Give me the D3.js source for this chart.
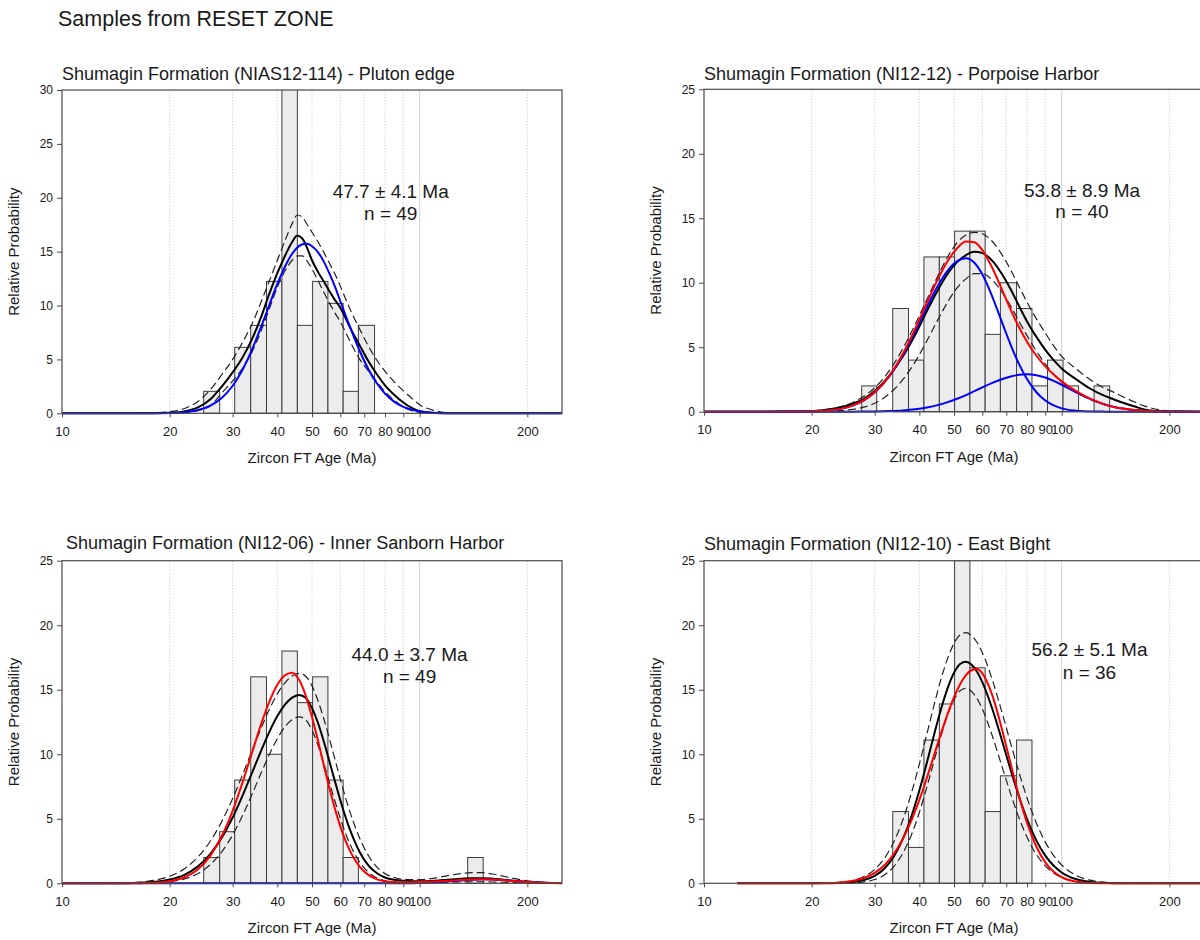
<!DOCTYPE html>
<html>
<head>
<meta charset="utf-8">
<script src="https://cdn.jsdelivr.net/npm/d3@7"></script>
<style>
  body { margin: 0; background: #fff; }
  text { font-family: "Liberation Sans", Arial, sans-serif; fill: #1a1a1a; }
</style>
</head>
<body>
<script>
// histogram bins (Ma), shared by all four samples
const binEdges = [24.9, 27.6, 30.4, 33.7, 37.3, 41.2, 45.5, 50.2, 55.4, 61.1, 67.4, 74.8, 82.6, 91.3, 100.9, 111.5, 123.2, 136.2, 150.5];

const p1Bars = [2.04, 0, 6.12, 8.16, 12.24, 30.6, 8.16, 12.24, 10.2, 2.04, 8.16, 0, 0, 0, 0, 0, 0, 0];
const p2Bars = [0, 2, 0, 8, 4, 12, 12, 14, 14, 6, 10, 8, 2, 4, 2, 0, 2, 0];
const p3Bars = [2, 4, 8, 16, 10, 18, 14, 16, 8, 2, 0, 0, 0, 0, 0, 0, 0, 2];
const p4Bars = [0, 0, 0, 5.56, 2.78, 11.1, 13.9, 25, 16.7, 5.56, 8.33, 11.1, 0, 0, 0, 0, 0, 0];

// curves, sampled at the ages of each panel
const p1Ages  = [10, 18, 20, 22, 24, 26, 28, 30, 32, 34, 36, 38, 40, 42, 44, 45.5, 47, 48.5, 50, 52, 54, 56, 58, 60, 64, 68, 72, 76, 80, 85, 90, 95, 100, 110, 120, 130, 250];
const p1Black = [0, 0.01, 0.04, 0.18, 0.55, 1.3, 2.5, 3.8, 5.2, 6.9, 8.9, 11.1, 13.0, 14.6, 15.9, 16.5, 16.2, 15.3, 14.2, 13.1, 12.2, 11.3, 10.5, 9.8, 7.9, 6.3, 4.8, 3.6, 2.6, 1.7, 1.0, 0.5, 0.2, 0.03, 0, 0, 0];
const p1Upper = [0, 0.05, 0.15, 0.45, 1.1, 2.2, 3.6, 5.0, 6.6, 8.3, 10.3, 12.3, 14.2, 16.0, 17.6, 18.4, 18.2, 17.5, 16.8, 15.9, 14.9, 13.9, 12.9, 11.8, 9.6, 7.8, 6.2, 4.9, 3.9, 2.9, 2.1, 1.4, 0.8, 0.25, 0.05, 0, 0];
const p1Lower = [0, 0, 0, 0.05, 0.25, 0.7, 1.9, 3.0, 4.2, 5.7, 7.6, 9.7, 11.7, 13.2, 14.2, 14.6, 14.6, 14.1, 13.4, 12.3, 11.2, 10.2, 9.3, 8.5, 6.6, 5.0, 3.9, 2.9, 2.0, 1.2, 0.6, 0.25, 0.08, 0, 0, 0, 0];
const p1Blue  = [0, 0.01, 0.03, 0.10, 0.30, 0.72, 1.44, 2.56, 4.07, 5.93, 7.99, 10.07, 12.0, 13.6, 14.8, 15.39, 15.69, 15.74, 15.5, 14.94, 14.05, 12.93, 11.73, 10.4, 7.94, 5.78, 4.05, 2.76, 1.82, 1.06, 0.60, 0.34, 0.18, 0.05, 0.01, 0, 0];

const p2Ages  = [10, 18, 20, 22, 24, 26, 28, 30, 33, 36, 39, 42, 45, 48, 51, 54, 57, 60, 64, 68, 72, 76, 80, 85, 90, 95, 100, 110, 120, 130, 140, 150, 160, 170, 180, 200, 250];
const p2Black = [0, 0.01, 0.04, 0.15, 0.32, 0.6, 1.0, 1.6, 2.8, 4.3, 6.0, 7.8, 9.4, 10.7, 11.6, 12.15, 12.4, 12.3, 11.7, 10.7, 9.5, 8.2, 7.0, 5.8, 4.8, 4.0, 3.35, 2.5, 1.8, 1.3, 0.95, 0.65, 0.4, 0.18, 0.08, 0.02, 0];
const p2Upper = [0, 0.03, 0.08, 0.18, 0.38, 0.7, 1.2, 1.85, 3.2, 4.9, 6.8, 8.7, 10.5, 12.0, 13.1, 13.7, 13.9, 13.8, 13.2, 12.2, 11.0, 9.7, 8.5, 7.2, 6.1, 5.1, 4.3, 3.3, 2.5, 1.9, 1.5, 1.1, 0.75, 0.45, 0.25, 0.07, 0];
const p2Lower = [0, 0, 0, 0.03, 0.08, 0.18, 0.35, 0.65, 1.4, 2.5, 3.9, 5.5, 7.1, 8.5, 9.6, 10.3, 10.7, 10.7, 10.2, 9.3, 8.2, 7.0, 5.9, 4.7, 3.7, 2.9, 2.3, 1.5, 0.95, 0.6, 0.35, 0.2, 0.1, 0.05, 0.03, 0.01, 0];
const p2Blue1 = [0, 0.01, 0.03, 0.09, 0.22, 0.47, 0.88, 1.48, 2.75, 4.41, 6.28, 8.12, 9.73, 10.94, 11.67, 11.9, 11.55, 10.65, 8.91, 6.98, 5.19, 3.69, 2.53, 1.51, 0.87, 0.49, 0.26, 0.08, 0.02, 0.01, 0, 0, 0, 0, 0, 0, 0];
const p2Blue2 = [0, 0, 0, 0, 0, 0, 0.01, 0.02, 0.05, 0.10, 0.19, 0.33, 0.51, 0.74, 1.0, 1.29, 1.59, 1.88, 2.23, 2.52, 2.73, 2.86, 2.9, 2.83, 2.65, 2.39, 2.09, 1.49, 0.99, 0.62, 0.37, 0.22, 0.125, 0.07, 0.04, 0.01, 0];
const p2Red   = [0, 0.01, 0.03, 0.09, 0.22, 0.47, 0.89, 1.50, 2.80, 4.51, 6.47, 8.45, 10.24, 11.68, 12.67, 13.19, 13.14, 12.53, 11.14, 9.50, 7.92, 6.55, 5.43, 4.34, 3.52, 2.88, 2.35, 1.57, 1.01, 0.63, 0.37, 0.22, 0.125, 0.07, 0.04, 0.01, 0];

const p3Ages  = [10, 15, 18, 20, 22, 24, 26, 28, 30, 32, 34, 36, 38, 40, 42, 44, 46, 48, 50, 52, 54, 56, 58, 60, 64, 68, 72, 76, 80, 85, 90, 100, 110, 120, 130, 140, 150, 160, 170, 180, 200, 220, 250];
const p3Black = [0, 0.01, 0.10, 0.29, 0.66, 1.31, 2.28, 3.56, 5.1, 6.81, 8.58, 10.25, 11.74, 12.96, 13.85, 14.39, 14.6, 14.37, 13.58, 12.4, 10.95, 9.4, 7.88, 6.44, 4.08, 2.41, 1.36, 0.78, 0.45, 0.27, 0.2, 0.16, 0.2, 0.28, 0.35, 0.4, 0.4, 0.36, 0.29, 0.21, 0.1, 0.04, 0.01];
const p3Upper = [0, 0.03, 0.22, 0.55, 1.13, 2.04, 3.28, 4.82, 6.57, 8.44, 10.28, 11.99, 13.48, 14.68, 15.54, 16.07, 16.27, 16.05, 15.3, 14.13, 12.71, 11.15, 9.58, 8.06, 5.44, 3.48, 2.12, 1.25, 0.75, 0.45, 0.32, 0.28, 0.4, 0.6, 0.75, 0.83, 0.82, 0.72, 0.57, 0.42, 0.2, 0.08, 0.02];
const p3Lower = [0, 0, 0.04, 0.13, 0.34, 0.76, 1.46, 2.46, 3.75, 5.27, 6.91, 8.52, 9.99, 11.21, 12.12, 12.68, 12.9, 12.67, 11.87, 10.68, 9.26, 7.77, 6.34, 5.03, 2.97, 1.63, 0.84, 0.41, 0.19, 0.08, 0.04, 0.04, 0.05, 0.08, 0.1, 0.12, 0.12, 0.1, 0.08, 0.05, 0.02, 0.01, 0];
const p3Blue  = [0, 0, 0, 0, 0, 0, 0, 0, 0, 0, 0, 0, 0, 0, 0, 0, 0, 0, 0, 0, 0, 0, 0, 0, 0, 0, 0, 0, 0, 0, 0, 0.03, 0.08, 0.15, 0.22, 0.28, 0.31, 0.3, 0.25, 0.19, 0.1, 0.05, 0.02];
const p3Red   = [0, 0, 0.04, 0.16, 0.47, 1.09, 2.15, 3.68, 5.62, 7.85, 10.15, 12.3, 14.08, 15.38, 16.12, 16.32, 15.77, 14.56, 12.89, 11.02, 9.1, 7.32, 5.74, 4.41, 2.45, 1.27, 0.63, 0.30, 0.16, 0.1, 0.08, 0.1, 0.14, 0.2, 0.26, 0.3, 0.32, 0.3, 0.25, 0.19, 0.1, 0.05, 0.02];

const p4Ages  = [12.4, 15, 20, 22, 24, 26, 28, 30, 32, 34, 36, 38, 40, 42, 44, 46, 48, 50, 52, 54, 56, 58, 60, 64, 68, 72, 76, 80, 85, 90, 95, 100, 110, 120, 130, 140, 250];
const p4Black = [0, 0, 0, 0.01, 0.03, 0.09, 0.25, 0.57, 1.17, 2.12, 3.46, 5.18, 7.19, 9.37, 11.53, 13.51, 15.13, 16.31, 17.0, 17.17, 16.94, 16.4, 15.59, 13.51, 11.13, 8.79, 6.71, 4.98, 3.31, 2.15, 1.36, 0.84, 0.31, 0.11, 0.04, 0.01, 0];
const p4Upper = [0, 0, 0, 0.02, 0.08, 0.22, 0.52, 1.07, 1.96, 3.25, 4.94, 6.98, 9.24, 11.58, 13.83, 15.83, 17.43, 18.59, 19.25, 19.42, 19.19, 18.66, 17.87, 15.76, 13.31, 10.85, 8.58, 6.62, 4.66, 3.19, 2.14, 1.42, 0.6, 0.24, 0.09, 0.03, 0];
const p4Lower = [0, 0, 0, 0, 0, 0.03, 0.11, 0.29, 0.66, 1.33, 2.35, 3.75, 5.49, 7.47, 9.51, 11.42, 13.04, 14.23, 14.92, 15.1, 14.86, 14.31, 13.51, 11.42, 9.11, 6.93, 5.06, 3.58, 2.23, 1.35, 0.79, 0.45, 0.14, 0.04, 0.01, 0, 0];
const p4Red   = [0, 0, 0.01, 0.02, 0.07, 0.18, 0.41, 0.81, 1.42, 2.31, 3.46, 4.86, 6.46, 8.18, 9.94, 11.62, 13.13, 14.42, 15.43, 16.13, 16.51, 16.6, 16.27, 14.56, 12.0, 9.26, 6.74, 4.69, 2.83, 1.62, 0.89, 0.47, 0.12, 0.03, 0.01, 0, 0];

const xTickValues = [10, 20, 30, 40, 50, 60, 70, 80, 90, 100, 200];
const dottedGrid = [20, 30, 40, 50, 60, 70, 80, 90, 200];

const styles = {
  dash:  { stroke: "#222", width: 1.2, dash: "8,4" },
  black: { stroke: "#000", width: 2, dash: null },
  blue:  { stroke: "#0000ff", width: 2, dash: null },
  red:   { stroke: "#ff0000", width: 2, dash: null }
};

const panels = [
  { title: "Shumagin Formation (NIAS12-114) - Pluton edge", titleX: 62, titleY: 80,
    left: 62, top: 90, bottom: 413.3, yMax: 30, bars: p1Bars, ages: p1Ages,
    curves: [[p1Upper, "dash"], [p1Lower, "dash"], [p1Black, "black"], [p1Blue, "blue"]],
    age: "47.7 \u00b1 4.1 Ma", n: "n = 49", note: [83, 20, 17.9] },
  { title: "Shumagin Formation (NI12-12) - Porpoise Harbor", titleX: 704, titleY: 80,
    left: 704, top: 89.3, bottom: 411.7, yMax: 25, bars: p2Bars, ages: p2Ages,
    curves: [[p2Upper, "dash"], [p2Lower, "dash"], [p2Black, "black"], [p2Blue1, "blue"], [p2Blue2, "blue"], [p2Red, "red"]],
    age: "53.8 \u00b1 8.9 Ma", n: "n = 40", note: [114, 16.67, 15.0] },
  { title: "Shumagin Formation (NI12-06) - Inner Sanborn Harbor", titleX: 66, titleY: 549,
    left: 62, top: 560.7, bottom: 883.3, yMax: 25, bars: p3Bars, ages: p3Ages,
    curves: [[p3Upper, "dash"], [p3Lower, "dash"], [p3Black, "black"], [p3Blue, "blue"], [p3Red, "red"]],
    age: "44.0 \u00b1 3.7 Ma", n: "n = 49", note: [93.7, 17.25, 15.5] },
  { title: "Shumagin Formation (NI12-10) - East Bight", titleX: 704, titleY: 550,
    left: 704, top: 560.7, bottom: 883.3, yMax: 25, bars: p4Bars, ages: p4Ages,
    curves: [[p4Upper, "dash"], [p4Lower, "dash"], [p4Black, "black"], [p4Red, "red"]],
    age: "56.2 \u00b1 5.1 Ma", n: "n = 36", note: [119.6, 17.61, 15.81] }
];

const svg = d3.select("body").append("svg")
  .attr("width", 1200)
  .attr("height", 940);

svg.append("text")
  .attr("x", 58)
  .attr("y", 26)
  .attr("font-size", 21.5)
  .text("Samples from RESET ZONE");

function drawPanel(p, idx) {
  const plotW = 500;
  const x = d3.scaleLog().domain([10, 250]).range([p.left, p.left + plotW]);
  const y = d3.scaleLinear().domain([0, p.yMax]).range([p.bottom, p.top]);
  const g = svg.append("g");

  g.append("clipPath").attr("id", "clip" + idx)
    .append("rect")
    .attr("x", p.left).attr("y", p.top)
    .attr("width", plotW).attr("height", p.bottom - p.top + 3);

  // grid
  g.selectAll(".dotgrid").data(dottedGrid).enter().append("line")
    .attr("x1", d => x(d)).attr("x2", d => x(d))
    .attr("y1", y(0)).attr("y2", y(p.yMax))
    .attr("stroke", "#c4c4c4").attr("stroke-width", 1)
    .attr("stroke-dasharray", "1,2");
  g.append("line")
    .attr("x1", x(100)).attr("x2", x(100))
    .attr("y1", y(0)).attr("y2", y(p.yMax))
    .attr("stroke", "#d4d4d4").attr("stroke-width", 1);

  const plot = g.append("g").attr("clip-path", `url(#clip${idx})`);

  // histogram
  const bins = binEdges.slice(0, -1)
    .map((e, i) => ({ x0: e, x1: binEdges[i + 1], v: p.bars[i] }))
    .filter(d => d.v > 0);
  plot.selectAll("rect.bar").data(bins).enter().append("rect")
    .attr("class", "bar")
    .attr("x", d => x(d.x0))
    .attr("width", d => x(d.x1) - x(d.x0))
    .attr("y", d => y(d.v))
    .attr("height", d => y(0) - y(d.v))
    .attr("fill", "#ececec")
    .attr("stroke", "#3c3c3c")
    .attr("stroke-width", 1);

  // curves
  const line = d3.line()
    .x(d => x(d[0]))
    .y(d => y(d[1]))
    .curve(d3.curveMonotoneX);

  p.curves.forEach(([vals, kind]) => {
    const s = styles[kind];
    plot.append("path")
      .datum(p.ages.map((a, i) => [a, vals[i]]))
      .attr("d", line)
      .attr("fill", "none")
      .attr("stroke", s.stroke)
      .attr("stroke-width", s.width)
      .attr("stroke-dasharray", s.dash);
  });

  // frame
  g.append("rect")
    .attr("x", p.left).attr("y", p.top)
    .attr("width", plotW).attr("height", p.bottom - p.top)
    .attr("fill", "none")
    .attr("stroke", "#4a4a4a")
    .attr("stroke-width", 1.2);

  // axes
  const yAxis = d3.axisLeft(y)
    .tickValues(d3.range(0, p.yMax + 1, 5))
    .tickSize(5)
    .tickPadding(4);
  const ya = g.append("g").attr("transform", `translate(${p.left},0)`).call(yAxis);
  ya.select(".domain").remove();
  ya.selectAll("line").attr("stroke", "#4a4a4a");
  ya.selectAll("text").attr("font-size", 12).attr("fill", "#222")
    .style("font-family", '"Liberation Sans", Arial, sans-serif');

  const xAxis = d3.axisBottom(x)
    .tickValues(xTickValues)
    .tickFormat(d3.format("d"))
    .tickSize(4)
    .tickPadding(9);
  const xa = g.append("g").attr("transform", `translate(0,${p.bottom})`).call(xAxis);
  xa.select(".domain").remove();
  xa.selectAll("line").attr("stroke", "#4a4a4a");
  xa.selectAll("text").attr("font-size", 13).attr("fill", "#222")
    .style("font-family", '"Liberation Sans", Arial, sans-serif');

  // titles
  g.append("text")
    .attr("x", p.titleX).attr("y", p.titleY)
    .attr("font-size", 18)
    .text(p.title);

  g.append("text")
    .attr("transform", `translate(${p.left - 43},${(p.top + p.bottom) / 2}) rotate(-90)`)
    .attr("text-anchor", "middle")
    .attr("font-size", 15)
    .text("Relative Probability");

  g.append("text")
    .attr("x", p.left + 250)
    .attr("y", p.bottom + 50)
    .attr("text-anchor", "middle")
    .attr("font-size", 15)
    .text("Zircon FT Age (Ma)");

  // age annotation
  g.append("text")
    .attr("x", x(p.note[0])).attr("y", y(p.note[1]))
    .attr("text-anchor", "middle")
    .attr("font-size", 19)
    .text(p.age);
  g.append("text")
    .attr("x", x(p.note[0])).attr("y", y(p.note[2]))
    .attr("text-anchor", "middle")
    .attr("font-size", 19)
    .text(p.n);
}

panels.forEach(drawPanel);
</script>
</body>
</html>
